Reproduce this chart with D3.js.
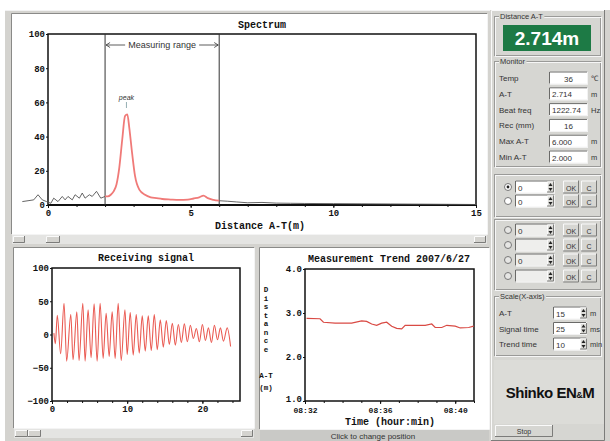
<!DOCTYPE html>
<html lang="en">
<head>
<meta charset="UTF-8">
<title>Distance monitor</title>
<script src="https://d3js.org/d3.v7.min.js"></script>
<style>
  body { margin: 0; background: #fff; }
  svg text { font-family: "Liberation Mono", "DejaVu Sans Mono", monospace; }
  .mono { font-weight: bold; fill: #111; }
  .ui { font-family: "Liberation Sans", Arial, sans-serif !important; font-size: 8px; fill: #333; }
  .axis text { font-family: "Liberation Mono", monospace; font-weight: bold; fill: #111; }
  .axis line { stroke: #111; }
</style>
</head>
<body>
<svg width="610" height="441"></svg>
<script>
// ---- spectrum (distance A-T in m, level)
const specX = [-0.9, -0.7, -0.5, -0.35, -0.2, -0.05, 0.1, 0.2, 0.35, 0.5, 0.6, 0.7, 0.85, 0.95, 1.1, 1.2, 1.3, 1.45, 1.55, 1.7, 1.85, 2.0,
  2.1, 2.2, 2.3, 2.4, 2.5, 2.6, 2.7, 2.78, 2.85, 2.95, 3.05, 3.2, 3.4, 3.6, 3.8, 4.0, 4.3, 4.6, 4.9, 5.1, 5.3, 5.45, 5.6, 5.8, 6.0,
  6.3, 6.6, 7.0, 7.5, 8.0, 8.5, 9.0, 10, 11, 12, 13, 14, 15];
const specY = [2, 2.5, 3, 6, 3, 2, 1, 4, 2, 5, 3, 5, 3, 6, 4, 7, 4, 6, 5, 8, 4, 5,
  5, 6, 8, 12, 22, 38, 52, 53, 45, 30, 17, 9, 6, 4.5, 4, 3.5, 3.2, 3, 3.2, 3.8, 4.5, 5.5, 4, 3, 2.5,
  2.2, 1.8, 1.3, 1.5, 1.1, 1, 0.9, 0.8, 0.7, 0.6, 0.5, 0.4, 0.3];
const specXTicks = [0, 5, 10, 15];
const specYTicks = [0, 20, 40, 60, 80, 100];
const measureRange = [2, 6];
const peakAt = 2.714;

// ---- receiving signal (time in ms, level)
const sigTime = [0.25, 0.45, 0.7, 1.15, 1.6, 1.95, 2.5, 2.8, 3.3, 3.6, 4.1, 4.4, 4.8, 5.2, 5.6, 6.0, 6.4, 6.8, 7.2, 7.6, 8.0, 8.4,
  8.8, 9.2, 9.7, 10.0, 10.4, 10.8, 11.2, 11.6, 12.0, 12.4, 12.8, 13.2, 13.6, 14.0, 14.4, 14.8, 15.2, 15.6, 16.0, 16.4,
  16.8, 17.2, 17.6, 18.0, 18.4, 18.8, 19.2, 19.6, 20.0, 20.4, 20.8, 21.2, 21.6, 22.0, 22.4, 22.8, 23.3, 23.75];
const sigLevel = [2, -14, 29, -29, 47, -40, 30, -38, 34, -39, 47, -40, 37, -35, 46, -40, 47, -36, 32, -33, 34, -36,
  47, -39, 37, -30, 33, -31, 30, -28, 28, -25, 28, -24, 30, -23, 22, -19, 21, -15, 17, -16,
  15, -12, 16, -11, 14, -6, 9, -11, 15, -9, 10, -12, 14, -8, 10, -10, 10, -18];
const sigXTicks = [0, 10, 20];
const sigYTicks = [-100, -50, 0, 50, 100];

// ---- measurement trend (time, distance A-T in m)
const trendTime = ["08:32:05", "08:32:48", "08:32:59", "08:33:36", "08:34:29", "08:35:01", "08:35:17", "08:35:33", "08:35:49",
  "08:36:05", "08:36:21", "08:36:37", "08:36:53", "08:37:09", "08:37:20", "08:37:52", "08:38:24", "08:38:45", "08:38:56",
  "08:39:17", "08:39:33", "08:40:00", "08:40:16", "08:40:43", "08:40:59"];
const trendDist = [2.88, 2.87, 2.79, 2.77, 2.77, 2.82, 2.81, 2.75, 2.72, 2.77, 2.79, 2.70, 2.65, 2.64, 2.72, 2.72, 2.72,
  2.75, 2.67, 2.67, 2.72, 2.70, 2.66, 2.67, 2.70];
const trendXTicks = ["08:32", "08:36", "08:40"];
const trendYTicks = [1, 2, 3, 4];

// ---- side panel texts
const monitorLabels = ["Temp", "A-T", "Beat freq", "Rec (mm)", "Max A-T", "Min A-T"];
const monitorValues = ["36", "2.714", "1222.74", "16", "6.000", "2.000"];
const monitorUnits = ["\u2103", "m", "Hz", "", "m", "m"];
const scaleLabels = ["A-T", "Signal time", "Trend time"];
const scaleValues = ["15", "25", "10"];
const scaleUnits = ["m", "ms", "min"];

const svg = d3.select("svg");
const grey = "#d4d3cf";
const red = "#ea5a52";

// ---------- window chrome
svg.append("rect").attr("x", 5).attr("y", 10).attr("width", 605).attr("height", 431).attr("fill", grey);
svg.append("line").attr("x1", 5).attr("x2", 490).attr("y1", 10.5).attr("y2", 10.5).attr("stroke", "#f2f2f2");

function panel(x, y, w, h, fill) {
  svg.append("rect").attr("x", x).attr("y", y).attr("width", w).attr("height", h).attr("fill", fill);
  svg.append("path").attr("d", `M${x - 0.5},${y + h}V${y - 0.5}H${x + w}`).attr("fill", "none").attr("stroke", "#8a8a88");
  svg.append("path").attr("d", `M${x + w + 0.5},${y}V${y + h + 0.5}H${x}`).attr("fill", "none").attr("stroke", "#f4f4f4");
}
function raised(x, y, w, h, fill) {
  svg.append("rect").attr("x", x).attr("y", y).attr("width", w).attr("height", h).attr("fill", fill || grey);
  svg.append("path").attr("d", `M${x + 0.5},${y + h}V${y + 0.5}H${x + w}`).attr("fill", "none").attr("stroke", "#fafafa");
  svg.append("path").attr("d", `M${x + w - 0.5},${y}V${y + h - 0.5}H${x}`).attr("fill", "none").attr("stroke", "#7c7c7a");
}
function scrollbar(x, y, w, h, buttons) {
  svg.append("rect").attr("x", x).attr("y", y).attr("width", w).attr("height", h).attr("fill", "#e4e4e2");
  buttons.forEach(b => raised(b[0], y + 1, b[1], h - 2));
}

panel(12, 14, 475, 220, "#fff");
scrollbar(12, 235, 475, 9, [[13, 12], [46, 14], [474, 12]]);
panel(14, 248, 240, 180, "#fff");
scrollbar(14, 429, 240, 9, [[15, 13], [28, 13], [241, 12]]);
panel(260, 248, 229, 181, "#fff");
svg.append("rect").attr("x", 260).attr("y", 430).attr("width", 229).attr("height", 11).attr("fill", "#c9c9c6");
svg.append("text").attr("class", "ui").attr("x", 373).attr("y", 439).attr("text-anchor", "middle")
  .style("font-size", "8px").attr("fill", "#333").text("Click to change position");

// ---------- helpers for the plots
function styleAxis(g, size) {
  g.attr("class", "axis");
  g.select(".domain").remove();
  g.selectAll("text").style("font-size", size + "px");
}
function title(x, y, t) {
  svg.append("text").attr("class", "mono").attr("x", x).attr("y", y).attr("text-anchor", "middle")
    .style("font-size", "10px").text(t);
}

// ---------- Spectrum
const xS = d3.scaleLinear().domain([0, 15]).range([48, 476]);
const yS = d3.scaleLinear().domain([0, 100]).range([205, 34]);
title(262, 28, "Spectrum");

svg.append("g").attr("transform", "translate(0,205)")
  .call(d3.axisBottom(xS).tickValues(xS.ticks(15)).tickSize(2).tickFormat(() => ""))
  .call(g => styleAxis(g, 9));
svg.append("g").attr("transform", "translate(0,205)")
  .call(d3.axisBottom(xS).tickValues(specXTicks).tickSize(3).tickPadding(2).tickFormat(d3.format("d")))
  .call(g => styleAxis(g, 9));
svg.append("g").attr("transform", "translate(48,0)")
  .call(d3.axisLeft(yS).tickValues(specYTicks).tickSize(2).tickPadding(1).tickFormat(d3.format("d")))
  .call(g => styleAxis(g, 9));
svg.append("text").attr("class", "mono").attr("x", 260).attr("y", 229).attr("text-anchor", "middle")
  .style("font-size", "10px").text("Distance A-T(m)");

svg.append("rect").attr("x", xS(0)).attr("y", yS(100)).attr("width", xS(15) - xS(0)).attr("height", yS(0) - yS(100))
  .attr("fill", "none").attr("stroke", "#111").attr("stroke-width", 1.5);
svg.append("line").attr("x1", xS(0)).attr("x2", xS(15)).attr("y1", yS(0)).attr("y2", yS(0))
  .attr("stroke", "#111").attr("stroke-width", 2);

// measuring range
measureRange.forEach(v => {
  svg.append("line").attr("x1", xS(v)).attr("x2", xS(v)).attr("y1", yS(100)).attr("y2", yS(0))
    .attr("stroke", "#333").attr("stroke-width", 1);
});
const midR = (xS(measureRange[0]) + xS(measureRange[1])) / 2;
svg.append("text").attr("class", "ui").attr("x", midR).attr("y", 48).attr("text-anchor", "middle")
  .style("font-size", "9px").attr("fill", "#222").text("Measuring range");
const ay = 45;
svg.append("path").attr("fill", "none").attr("stroke", "#333").attr("stroke-width", 0.8)
  .attr("d", `M${xS(measureRange[0]) + 1},${ay}H${midR - 37}M${xS(measureRange[0]) + 5},${ay - 2.5}L${xS(measureRange[0]) + 1},${ay}L${xS(measureRange[0]) + 5},${ay + 2.5}`);
svg.append("path").attr("fill", "none").attr("stroke", "#333").attr("stroke-width", 0.8)
  .attr("d", `M${midR + 37},${ay}H${xS(measureRange[1]) - 1}M${xS(measureRange[1]) - 5},${ay - 2.5}L${xS(measureRange[1]) - 1},${ay}L${xS(measureRange[1]) - 5},${ay + 2.5}`);

// spectrum line
const spec = specX.map((x, i) => ({ x, y: specY[i] }));
const specLine = d3.line().x(d => xS(d.x)).y(d => yS(d.y));
svg.append("path").datum(spec.filter(d => d.x <= measureRange[0])).attr("d", specLine)
  .attr("fill", "none").attr("stroke", "#555").attr("stroke-width", 0.9);
svg.append("path").datum(spec.filter(d => d.x >= measureRange[1])).attr("d", specLine)
  .attr("fill", "none").attr("stroke", "#555").attr("stroke-width", 0.9);
svg.append("path").datum(spec.filter(d => d.x >= measureRange[0] && d.x <= measureRange[1]))
  .attr("d", specLine.curve(d3.curveMonotoneX))
  .attr("fill", "none").attr("stroke", "#f07a78").attr("stroke-width", 1.8);

// peak mark
svg.append("text").attr("class", "ui").attr("x", xS(peakAt) + 1).attr("y", 100).attr("text-anchor", "middle")
  .style("font-size", "7px").style("font-style", "italic").attr("fill", "#5a8088").text("peak");
svg.append("line").attr("x1", xS(peakAt) + 1).attr("x2", xS(peakAt) + 1).attr("y1", 102).attr("y2", 108)
  .attr("stroke", "#7a9aa0").attr("stroke-width", 0.8);

// ---------- Receiving signal
const xR = d3.scaleLinear().domain([0, 25]).range([52, 240]);
const yR = d3.scaleLinear().domain([-100, 100]).range([401, 268]);
title(146, 261, "Receiving signal");
svg.append("g").attr("transform", "translate(0,401)")
  .call(d3.axisBottom(xR).tickValues(d3.range(0, 25, 2)).tickSize(2).tickFormat(() => ""))
  .call(g => styleAxis(g, 9));
svg.append("g").attr("transform", "translate(0,401)")
  .call(d3.axisBottom(xR).tickValues(sigXTicks).tickSize(3).tickPadding(2).tickFormat(d3.format("d")))
  .call(g => styleAxis(g, 9));
svg.append("g").attr("transform", "translate(52,0)")
  .call(d3.axisLeft(yR).tickValues(sigYTicks).tickSize(2).tickPadding(1).tickFormat(d3.format("d")))
  .call(g => styleAxis(g, 9));
svg.append("rect").attr("x", xR(0)).attr("y", yR(100)).attr("width", xR(25) - xR(0)).attr("height", yR(-100) - yR(100))
  .attr("fill", "none").attr("stroke", "#111").attr("stroke-width", 1.5);
const sig = sigTime.map((t, i) => ({ t, v: sigLevel[i] }));
svg.append("path").datum(sig)
  .attr("d", d3.line().x(d => xR(d.t)).y(d => yR(d.v)).curve(d3.curveMonotoneX))
  .attr("fill", "none").attr("stroke", red).attr("stroke-width", 1.1);

// ---------- Measurement trend
const parseT = d3.timeParse("%H:%M:%S");
const parseM = d3.timeParse("%H:%M");
const xT = d3.scaleTime().domain([parseM("08:32"), parseM("08:41")]).range([305, 474]);
const yT = d3.scaleLinear().domain([1, 4]).range([401, 269]);
title(389, 262, "Measurement Trend 2007/6/27");
svg.append("g").attr("transform", "translate(0,401)")
  .call(d3.axisBottom(xT).ticks(d3.timeMinute.every(1)).tickSize(2).tickFormat(() => ""))
  .call(g => styleAxis(g, 8));
svg.append("g").attr("transform", "translate(0,401)")
  .call(d3.axisBottom(xT).tickValues(trendXTicks.map(parseM)).tickSize(3).tickPadding(3.5).tickFormat(d3.timeFormat("%H:%M")))
  .call(g => styleAxis(g, 8));
svg.append("g").attr("transform", "translate(305,0)")
  .call(d3.axisLeft(yT).tickValues(trendYTicks).tickSize(2).tickPadding(1).tickFormat(d3.format(".1f")))
  .call(g => styleAxis(g, 9))
  .call(g => g.selectAll(".tick text").filter(d => d === 1).attr("dy", "0.1em"));
svg.append("rect").attr("x", xT.range()[0]).attr("y", yT(4)).attr("width", xT.range()[1] - xT.range()[0]).attr("height", yT(1) - yT(4))
  .attr("fill", "none").attr("stroke", "#111").attr("stroke-width", 1.5);
svg.append("text").attr("class", "mono").attr("x", 390).attr("y", 425).attr("text-anchor", "middle")
  .style("font-size", "10px").text("Time (hour:min)");
// stacked vertical axis label
const vLabel = ["D", "i", "s", "t", "a", "n", "c", "e", "A-T", "(m)"];
const vLabelY = [292, 300.5, 309, 317.5, 326, 334.5, 343, 351.5, 378, 390];
vLabel.forEach((s, i) => {
  svg.append("text").attr("class", "mono").attr("x", 266).attr("y", vLabelY[i]).attr("text-anchor", "middle")
    .style("font-size", "7.5px").text(s);
});
const trend = trendTime.map((t, i) => ({ t: parseT(t), v: trendDist[i] }));
svg.append("path").datum(trend)
  .attr("d", d3.line().x(d => xT(d.t)).y(d => yT(d.v)))
  .attr("fill", "none").attr("stroke", "#d94a44").attr("stroke-width", 1.2);

// ---------- side panel
raised(491, 10, 114, 431, "#d6d6d2");
function group(x, y, w, h, label) {
  svg.append("rect").attr("x", x + 0.5).attr("y", y + 0.5).attr("width", w).attr("height", h)
    .attr("fill", "none").attr("stroke", "#9a9a98");
  svg.append("rect").attr("x", x + 1.5).attr("y", y + 1.5).attr("width", w).attr("height", h)
    .attr("fill", "none").attr("stroke", "#f6f6f6");
  if (label) {
    const t = svg.append("text").attr("class", "ui").attr("x", x + 6).attr("y", y + 3).style("font-size", "7.5px").text(label);
    const bb = t.node().getBBox();
    svg.insert("rect", () => t.node()).attr("x", bb.x - 1).attr("y", bb.y).attr("width", bb.width + 2).attr("height", bb.height)
      .attr("fill", "#d6d6d2");
  }
}
function field(x, y, w, h, txt, anchor, disabled) {
  svg.append("rect").attr("x", x).attr("y", y).attr("width", w).attr("height", h).attr("fill", disabled ? "#eeeeec" : "#fff");
  svg.append("path").attr("d", `M${x + 0.5},${y + h}V${y + 0.5}H${x + w}`).attr("fill", "none").attr("stroke", "#6a6a68");
  svg.append("path").attr("d", `M${x + w - 0.5},${y}V${y + h - 0.5}H${x}`).attr("fill", "none").attr("stroke", "#f2f2f2");
  if (txt !== "") {
    svg.append("text").attr("class", "ui").attr("x", anchor === "middle" ? x + w / 2 : x + 3).attr("y", y + h - 3)
      .attr("text-anchor", anchor).style("font-size", "8px").attr("fill", disabled ? "#aaa" : "#333").text(txt);
  }
}
function spinner(x, y, h) {
  raised(x, y + 1, 7, h - 2, "#dcdcd8");
  svg.append("path").attr("d", `M${x + 1.5},${y + h / 2 - 1}L${x + 3.5},${y + 2.5}L${x + 5.5},${y + h / 2 - 1}Z M${x + 1.5},${y + h / 2 + 1}L${x + 3.5},${y + h - 2.5}L${x + 5.5},${y + h / 2 + 1}Z`)
    .attr("fill", "#222");
}
function button(x, y, w, h, txt, disabled) {
  raised(x, y, w, h, "#d6d6d2");
  svg.append("text").attr("class", "ui").attr("x", x + w / 2).attr("y", y + h - 3).attr("text-anchor", "middle")
    .style("font-size", "7px").attr("fill", disabled ? "#b0b0ae" : "#333").text(txt);
}
function radio(x, y, on, disabled) {
  svg.append("circle").attr("cx", x).attr("cy", y).attr("r", 3.5).attr("fill", disabled ? "#e6e6e4" : "#fff").attr("stroke", "#777");
  if (on) svg.append("circle").attr("cx", x).attr("cy", y).attr("r", 1.4).attr("fill", "#222");
}

// distance display
group(494, 16, 106, 39, "Distance A-T");
svg.append("rect").attr("x", 503).attr("y", 25).attr("width", 88).attr("height", 26).attr("fill", "#1d7a45");
svg.append("text").attr("x", 547).attr("y", 45).attr("text-anchor", "middle")
  .style("font-family", "'Liberation Sans', Arial, sans-serif").style("font-size", "19px").style("font-weight", "bold")
  .attr("fill", "#fff").text("2.714m");

// monitor
group(494, 61, 106, 105, "Monitor");
monitorLabels.forEach((l, i) => {
  const cy = 78 + i * 15.8;
  svg.append("text").attr("class", "ui").attr("x", 499).attr("y", cy + 3).style("font-size", "8px").text(l);
  field(549, cy - 6.5, 39, 13, monitorValues[i], (i === 0 || i === 3) ? "middle" : "start");
  svg.append("text").attr("class", "ui").attr("x", 591).attr("y", cy + 3).style("font-size", "7.5px").text(monitorUnits[i]);
});

// channel selectors
group(494, 174, 106, 42, null);
[187, 201].forEach((cy, i) => {
  radio(508, cy, i === 0, false);
  field(515, cy - 6.5, 40, 13, "0", "start", false);
  spinner(547, cy - 6.5, 13);
  button(563, cy - 6.5, 16, 13, "OK", false);
  button(581, cy - 6.5, 16, 13, "C", false);
});
group(494, 219, 106, 70, null);
[230, 245, 260, 276].forEach((cy, i) => {
  radio(508, cy, false, true);
  field(515, cy - 6.5, 40, 13, (i % 2 === 0) ? "0" : "", "start", true);
  spinner(547, cy - 6.5, 13);
  button(563, cy - 6.5, 16, 13, "OK", true);
  button(581, cy - 6.5, 16, 13, "C", true);
});

// scale settings
group(494, 296, 106, 59, "Scale(X-axis)");
scaleLabels.forEach((l, i) => {
  const cy = 313 + i * 15.5;
  svg.append("text").attr("class", "ui").attr("x", 499).attr("y", cy + 3).style("font-size", "8px").text(l);
  field(553, cy - 6.5, 34, 13, scaleValues[i], "start", false);
  spinner(580, cy - 6.5, 13);
  svg.append("text").attr("class", "ui").attr("x", 590).attr("y", cy + 3).style("font-size", "7.5px").text(scaleUnits[i]);
});

// logo
svg.append("rect").attr("x", 494).attr("y", 360).attr("width", 110).attr("height", 64).attr("fill", "#dcdcd8");
const logo = svg.append("text").attr("x", 550).attr("y", 398).attr("text-anchor", "middle")
  .style("font-family", "'Liberation Sans', Arial, sans-serif").style("font-weight", "bold").style("font-size", "15px")
  .attr("fill", "#111").style("letter-spacing", "-0.5px");
logo.append("tspan").text("Shinko EN");
logo.append("tspan").style("font-size", "9px").text("&");
logo.append("tspan").text("M");
button(495, 425, 58, 12, "Stop", true);
</script>
</body>
</html>
